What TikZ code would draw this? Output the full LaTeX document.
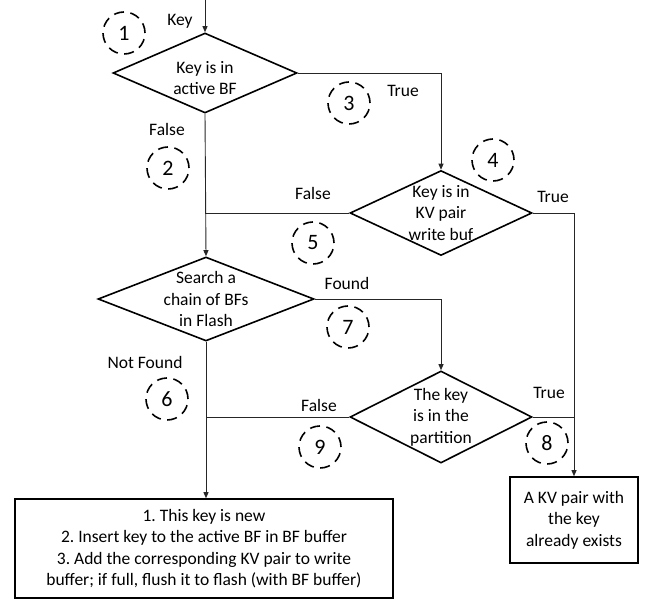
\documentclass[tikz,border=0pt]{standalone}
\usepackage{fontspec}
\setmainfont{Carlito}
\usetikzlibrary{shapes.geometric,arrows.meta}

\tikzset{
  decision/.style={diamond,draw,line width=1.6pt,inner sep=0pt,aspect=2},
  endbox/.style={rectangle,draw,line width=1.6pt,inner sep=0pt,align=center},
  stepno/.style={circle,draw,dashed,dash pattern=on 10pt off 6.5pt,line width=1.6pt,minimum size=42pt,inner sep=0pt,font=\fontsize{22}{24}\selectfont},
  flow/.style={line width=0.9pt,draw=black!85},
  lbl/.style={inner sep=0pt}
}

\begin{document}
\begin{tikzpicture}[x=1pt,y=-1pt,>={Triangle[length=6pt,width=5pt]},font=\fontsize{17.5}{21.5}\selectfont]
  \useasboundingbox (0,0) rectangle (646,602);
  % decisions
  \node[decision,minimum width=184pt,minimum height=80pt,label={[align=center,yshift=-5pt]center:Key is in\\active BF}] (d1) at (205,73) {};
  \node[decision,minimum width=182pt,minimum height=85pt,label={[align=center]center:Key is in\\KV pair\\write buf}] (d2) at (441,213) {};
  \node[decision,minimum width=216pt,minimum height=84pt,label={[align=center]center:Search a\\chain of BFs\\in Flash}] (d3) at (206,299) {};
  \node[decision,minimum width=182pt,minimum height=92pt,label={[align=center]center:The key\\is in the\\partition}] (d4) at (441,417) {};
  % results
  \node[endbox,minimum width=378pt,minimum height=99pt] (new) at (204,548.5)
    {1.\ This key is new\\2.\ Insert key to the active BF in BF buffer\\3.\ Add the corresponding KV pair to write\\buffer; if full, flush it to flash (with BF buffer)};
  \node[endbox,minimum width=128pt,minimum height=86pt] (exist) at (574,520)
    {A KV pair with\\the key\\already exists};
  % connectors
  \coordinate (in) at (205,0);
  \draw[flow,->] (in) -- (d1.north);
  \draw[flow,->] (d1.east) -| (d2.north);
  \draw[flow,->] (d1.south) -- (d3.north);
  \draw[flow] (d2.west) -- (d2.west -| d1.south);
  \draw[flow,->] (d2.east) -| (exist.north);
  \draw[flow,->] (d3.east) -| (d4.north);
  \draw[flow,->] (d3.south) -- (d3.south |- new.north);
  \draw[flow] (d4.west) -- (d4.west -| d3.south);
  \draw[flow] (d4.east) -- (d4.east -| exist.north);
  % branch labels
  \node[lbl] (lkey) at (180,21) {Key};
  \node[lbl] (lt1) at (403,91) {True};
  \node[lbl] (lf1) at (167,129) {False};
  \node[lbl] (lf2) at (313,193) {False};
  \node[lbl] (lt2) at (553,197) {True};
  \node[lbl] (lfd) at (347,283) {Found};
  \node[lbl] (lnf) at (145,362) {Not Found};
  \node[lbl] (lf4) at (319,405) {False};
  \node[lbl] (lt4) at (549,393) {True};
  % step numbers
  \foreach \n/\x/\y in {1/124/33,2/168/168,3/349/103,4/493/160,5/313/243,6/167/399,7/348/327,8/547/443,9/320/447}
    \node[stepno] (s\n) at (\x,\y) {\n};
\end{tikzpicture}
\end{document}
